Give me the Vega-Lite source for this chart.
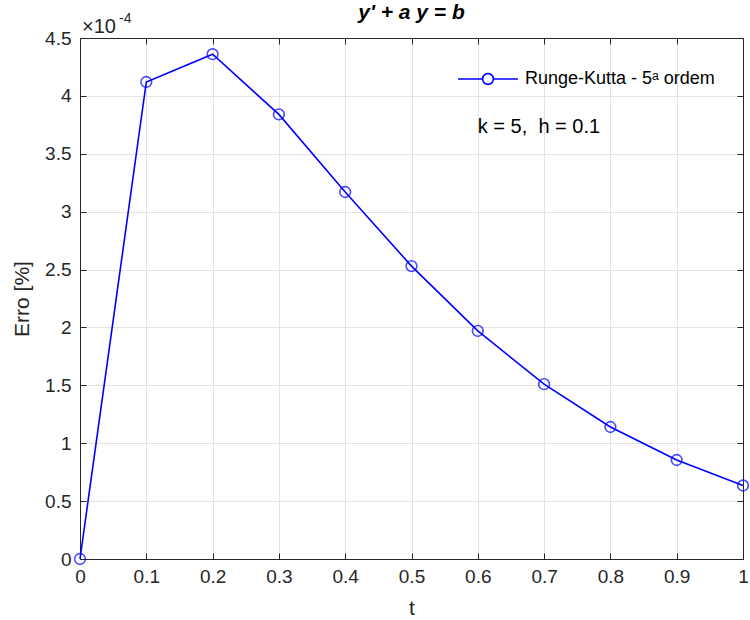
{
  "$schema": "https://vega.github.io/schema/vega-lite/v6.json",
  "width": 663,
  "height": 521,
  "autosize": {"type": "none"},
  "padding": {"left": 80, "top": 38, "right": 7, "bottom": 61},
  "background": "white",
  "config": {
    "font": "Liberation Sans",
    "view": {"stroke": "#262626", "strokeWidth": 1},
    "axis": {
      "domainColor": "#262626",
      "tickColor": "#262626",
      "labelColor": "#262626",
      "titleColor": "#262626",
      "gridColor": "#e3e3e3",
      "labelFont": "Liberation Sans",
      "titleFont": "Liberation Sans",
      "labelFontSize": 19,
      "titleFontSize": 21,
      "titleFontWeight": "normal",
      "tickSize": -6,
      "labelFlush": false,
      "labelOverlap": false
    }
  },
  "title": {
    "text": "y' + a y = b",
    "fontSize": 21,
    "fontWeight": "bold",
    "fontStyle": "italic",
    "color": "#000000",
    "anchor": "middle",
    "offset": -11
  },
  "data": {
    "values": [
      {"t": 0.0, "erro": 0.0, "serie": "Runge-Kutta - 5ᵃ ordem"},
      {"t": 0.1, "erro": 0.000412, "serie": "Runge-Kutta - 5ᵃ ordem"},
      {"t": 0.2, "erro": 0.000436, "serie": "Runge-Kutta - 5ᵃ ordem"},
      {"t": 0.3, "erro": 0.000384, "serie": "Runge-Kutta - 5ᵃ ordem"},
      {"t": 0.4, "erro": 0.000317, "serie": "Runge-Kutta - 5ᵃ ordem"},
      {"t": 0.5, "erro": 0.000253, "serie": "Runge-Kutta - 5ᵃ ordem"},
      {"t": 0.6, "erro": 0.000197, "serie": "Runge-Kutta - 5ᵃ ordem"},
      {"t": 0.7, "erro": 0.000151, "serie": "Runge-Kutta - 5ᵃ ordem"},
      {"t": 0.8, "erro": 0.000114, "serie": "Runge-Kutta - 5ᵃ ordem"},
      {"t": 0.9, "erro": 0.0000855, "serie": "Runge-Kutta - 5ᵃ ordem"},
      {"t": 1.0, "erro": 0.0000635, "serie": "Runge-Kutta - 5ᵃ ordem"}
    ]
  },
  "resolve": {"axis": {"x": "independent", "y": "independent"}},
  "layer": [
    {
      "mark": {"type": "line", "strokeWidth": 1.6, "clip": false},
      "encoding": {
        "x": {
          "field": "t", "type": "quantitative",
          "scale": {"domain": [0, 1], "nice": false, "zero": false},
          "axis": {
            "orient": "bottom", "title": "t",
            "values": [0, 0.1, 0.2, 0.3, 0.4, 0.5, 0.6, 0.7, 0.8, 0.9, 1],
            "format": "~g", "grid": true, "labelPadding": 14, "titlePadding": 11
          }
        },
        "y": {
          "field": "erro", "type": "quantitative",
          "scale": {"domain": [0, 0.00045], "nice": false},
          "axis": {
            "orient": "left", "title": "Erro [%]",
            "values": [0, 0.00005, 0.0001, 0.00015, 0.0002, 0.00025, 0.0003, 0.00035, 0.0004, 0.00045],
            "labelExpr": "format(datum.value*10000, '.1~f')",
            "grid": true, "labelPadding": 15, "titlePadding": 12
          }
        },
        "color": {
          "field": "serie", "type": "nominal",
          "scale": {"range": ["#0000ff"]},
          "legend": {
            "title": null,
            "orient": "none",
            "legendX": 377,
            "legendY": 10,
            "padding": 0,
            "symbolType": "M-1,0H-0.18M0.18,0H1M-0.18,0A0.18,0.18 0 1,1 0.18,0A0.18,0.18 0 1,1 -0.18,0Z",
            "symbolSize": 3600,
            "symbolStrokeWidth": 1.6,
            "symbolFillColor": "transparent",
            "labelFontSize": 18,
            "labelColor": "#000000",
            "labelOffset": 6,
            "labelLimit": 400,
            "labelFont": "Liberation Sans"
          }
        }
      }
    },
    {
      "mark": {"type": "point", "shape": "circle", "filled": false, "size": 115, "strokeWidth": 1.6, "color": "#0000ff", "clip": false},
      "encoding": {
        "x": {
          "field": "t", "type": "quantitative",
          "axis": {
            "orient": "top", "title": null, "labels": false, "grid": false,
            "values": [0, 0.1, 0.2, 0.3, 0.4, 0.5, 0.6, 0.7, 0.8, 0.9, 1]
          }
        },
        "y": {
          "field": "erro", "type": "quantitative",
          "axis": {
            "orient": "right", "title": null, "labels": false, "grid": false,
            "values": [0, 0.00005, 0.0001, 0.00015, 0.0002, 0.00025, 0.0003, 0.00035, 0.0004, 0.00045]
          }
        }
      }
    },
    {
      "data": {"values": [{"label": "k = 5,\u00a0 h = 0.1"}]},
      "mark": {"type": "text", "align": "left", "baseline": "middle", "fontSize": 20, "fontWeight": "normal", "fill": "#000000", "font": "Liberation Sans"},
      "encoding": {
        "text": {"field": "label"},
        "x": {"datum": 0.6, "type": "quantitative", "axis": null},
        "y": {"datum": 0.000373, "type": "quantitative", "axis": null}
      }
    },
    {
      "data": {"values": [{"label": "×10"}]},
      "mark": {"type": "text", "align": "left", "baseline": "alphabetic", "fontSize": 20, "fontWeight": "normal", "dx": 2, "dy": -5, "fill": "#262626", "font": "Liberation Sans"},
      "encoding": {
        "text": {"field": "label"},
        "x": {"datum": 0, "type": "quantitative", "axis": null},
        "y": {"datum": 0.00045, "type": "quantitative", "axis": null}
      }
    },
    {
      "data": {"values": [{"label": "-4"}]},
      "mark": {"type": "text", "align": "left", "baseline": "alphabetic", "fontSize": 14, "fontWeight": "normal", "dx": 39, "dy": -15, "fill": "#262626", "font": "Liberation Sans"},
      "encoding": {
        "text": {"field": "label"},
        "x": {"datum": 0, "type": "quantitative", "axis": null},
        "y": {"datum": 0.00045, "type": "quantitative", "axis": null}
      }
    }
  ]
}
